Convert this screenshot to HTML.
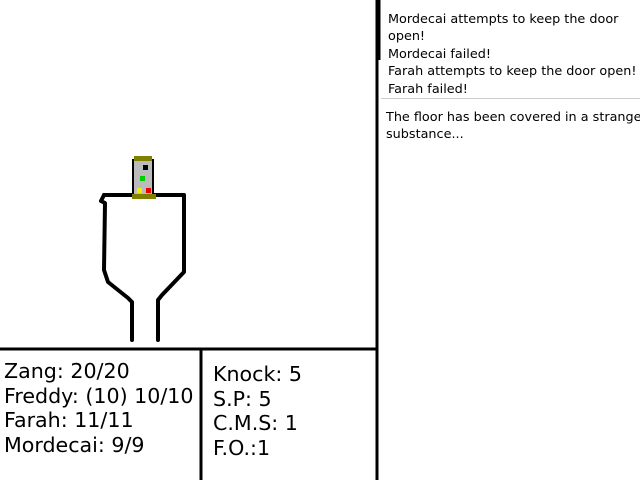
<!DOCTYPE html>
<html><head><style>
body{margin:0;width:640px;height:480px;background:#fff;position:relative;overflow:hidden;font-family:"DejaVu Sans",sans-serif;}
.t{position:absolute;white-space:nowrap;color:#000;}
.log{font-size:12.8px;line-height:17.4px;left:388px;}
.st{font-size:20.6px;line-height:24.7px;}
</style></head><body>
<svg width="640" height="480" style="position:absolute;left:0;top:0">
<g stroke="#000" fill="none" stroke-width="4" stroke-linejoin="round" stroke-linecap="round">
<polyline points="104,195 184,195 184,205 184,272 162,295 158,300 158,340"/>
<polyline points="104,195 101,201 105,203 104,270 108,282 128,298 132,302 132,340"/>
</g>
<rect x="133" y="160" width="20" height="38" fill="#bbb" stroke="#000" stroke-width="2"/>
<rect x="134" y="156" width="18" height="5" fill="#808000"/>
<rect x="132" y="194" width="24" height="5" fill="#808000"/>
<rect x="143" y="165" width="5" height="5" fill="#000"/>
<rect x="140" y="176" width="5" height="5" fill="#0c0"/>
<rect x="137" y="188" width="5" height="5" fill="#ee0"/>
<rect x="146" y="188" width="5" height="5" fill="#e00"/>
<line x1="0" y1="349" x2="378" y2="349" stroke="#000" stroke-width="3"/>
<line x1="201" y1="349" x2="201" y2="480" stroke="#000" stroke-width="3"/>
<line x1="377" y1="0" x2="377" y2="480" stroke="#000" stroke-width="3"/>
<line x1="378" y1="0" x2="378" y2="60" stroke="#000" stroke-width="5"/>
<line x1="381" y1="98.5" x2="640" y2="98.5" stroke="#ccc" stroke-width="1"/>
</svg>
<div class="t log" style="top:11px">Mordecai attempts to keep the door<br>open!<br>Mordecai failed!<br>Farah attempts to keep the door open!<br>Farah failed!</div>
<div class="t log" style="top:109px;left:386px">The floor has been covered in a strange<br>substance...</div>
<div class="t st" style="left:4px;top:359px">Zang: 20/20<br>Freddy: (10) 10/10<br>Farah: 11/11<br>Mordecai: 9/9</div>
<div class="t st" style="left:213px;top:362px">Knock: 5<br>S.P: 5<br>C.M.S: 1<br>F.O.:1</div>
</body></html>
